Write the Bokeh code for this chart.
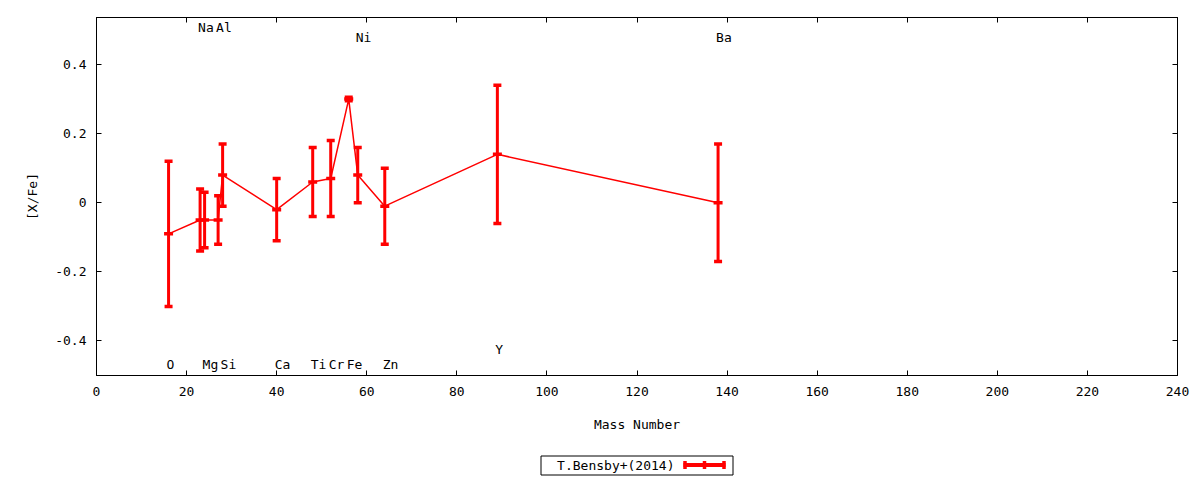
from bokeh.plotting import figure
from bokeh.models import Range1d, LinearAxis, FixedTicker, Whisker, TeeHead, ColumnDataSource
from bokeh.layouts import column
from bokeh.core.properties import value
from bokeh.embed import file_html
from bokeh.resources import INLINE

# ---- data ----
elements = ["O", "Na", "Mg", "Al", "Si", "Ca", "Ti", "Cr", "Fe", "Ni", "Zn", "Y", "Ba"]
mass_number = [16, 23, 24, 27, 28, 40, 48, 52, 56, 58, 64, 89, 138]
x_fe = [-0.09, -0.05, -0.05, -0.05, 0.08, -0.02, 0.06, 0.07, 0.30, 0.08, -0.01, 0.14, 0.00]
x_fe_err = [0.21, 0.09, 0.08, 0.07, 0.09, 0.09, 0.10, 0.11, 0.005, 0.08, 0.11, 0.20, 0.17]
label_y = [-0.467, 0.507, -0.467, 0.507, -0.467, -0.467, -0.467, -0.467, -0.467, 0.478, -0.467, -0.426, 0.478]
series_name = "T.Bensby+(2014)"
x_ticks = [0, 20, 40, 60, 80, 100, 120, 140, 160, 180, 200, 220, 240]
y_ticks = [-0.4, -0.2, 0, 0.2, 0.4]
y_tick_labels = ["-0.4", "-0.2", "0", "0.2", "0.4"]

FONT = "DejaVu Sans Mono"
RED = "#ff0000"

src = ColumnDataSource(dict(
    x=mass_number, y=x_fe,
    upper=[v + e for v, e in zip(x_fe, x_fe_err)],
    lower=[v - e for v, e in zip(x_fe, x_fe_err)],
))
lab_src = ColumnDataSource(dict(x=mass_number, y=label_y, t=elements))

p = figure(width=1200, height=440, x_range=Range1d(0, 240), y_range=Range1d(-0.5, 0.536),
           toolbar_location=None, output_backend="svg",
           min_border_left=96, min_border_right=23, min_border_top=17, min_border_bottom=65)
p.title.visible = False
p.xgrid.visible = False
p.ygrid.visible = False
p.outline_line_color = "black"
p.outline_line_width = 1
p.background_fill_color = "white"
p.border_fill_color = "white"


def style_axis(ax, ticks, show):
    ax.ticker = FixedTicker(ticks=ticks)
    ax.axis_line_color = "black"
    ax.major_tick_line_color = "black"
    ax.major_tick_in = 5
    ax.major_tick_out = 0
    ax.minor_tick_line_color = None
    ax.major_label_text_font = FONT
    ax.axis_label_text_font = FONT
    ax.axis_label_text_font_size = "13px"
    ax.axis_label_text_font_style = "normal"
    ax.axis_label_text_color = "black"
    if show:
        ax.major_label_text_font_size = "13px"
        ax.major_label_text_color = "black"
    else:
        ax.major_label_text_font_size = "1px"
        ax.major_label_text_color = None
        ax.major_label_standoff = 0


xa = p.xaxis[0]
style_axis(xa, x_ticks, True)
xa.axis_label = "Mass Number"
xa.major_label_standoff = 11
xa.axis_label_standoff = 18

ya = p.yaxis[0]
style_axis(ya, y_ticks, True)
ya.axis_label = "[X/Fe]"
ya.major_label_standoff = 10
ya.axis_label_standoff = 12
ya.major_label_overrides = {v: s for v, s in zip(y_ticks, y_tick_labels)}

top_ax = LinearAxis()
style_axis(top_ax, x_ticks, False)
p.add_layout(top_ax, "above")
right_ax = LinearAxis()
style_axis(right_ax, y_ticks, False)
p.add_layout(right_ax, "right")

# connecting line
p.line("x", "y", source=src, line_color=RED, line_width=1.5)
# error bars
w = Whisker(source=src, base="x", upper="upper", lower="lower",
            line_color=RED, line_width=3,
            upper_head=TeeHead(size=8, line_color=RED, line_width=3.5),
            lower_head=TeeHead(size=8, line_color=RED, line_width=3.5))
p.add_layout(w)
# point markers
p.scatter("x", "y", source=src, marker="dash", size=9, line_color=RED, line_width=3.5)

# element labels
p.text("x", "y", text="t", source=lab_src, x_offset=-2, text_align="left",
       text_baseline="middle", text_font=value(FONT), text_font_size="13px",
       text_color="black")

# ---- legend (drawn in a small pixel-coordinate figure, frame aligned with main frame) ----
lg = figure(width=1200, height=40, x_range=Range1d(96, 1177), y_range=Range1d(40, 0),
            x_axis_type=None, y_axis_type=None, toolbar_location=None,
            output_backend="svg", min_border=0, min_border_left=96, min_border_right=23,
            min_border_top=0, min_border_bottom=0)
lg.title.visible = False
lg.outline_line_color = None
lg.background_fill_color = "white"
lg.border_fill_color = "white"
lg.quad(left=[540.5], right=[732.5], top=[15.5], bottom=[34.5],
        fill_color=None, line_color="black", line_width=1)
lg.text(x=[674], y=[25], text=[series_name], text_align="right", text_baseline="middle",
        text_font=value(FONT), text_font_size="13px", text_color="black")
lg.segment(x0=[683], y0=[24.5], x1=[725], y1=[24.5], line_color=RED, line_width=4)
lg.segment(x0=[684.5, 704, 723.5], y0=[20.5, 20.5, 20.5], x1=[684.5, 704, 723.5], y1=[28.5, 28.5, 28.5],
           line_color=RED, line_width=3.5)

layout = column(p, lg, spacing=0)
open("out.html", "w").write(file_html(layout, INLINE))
